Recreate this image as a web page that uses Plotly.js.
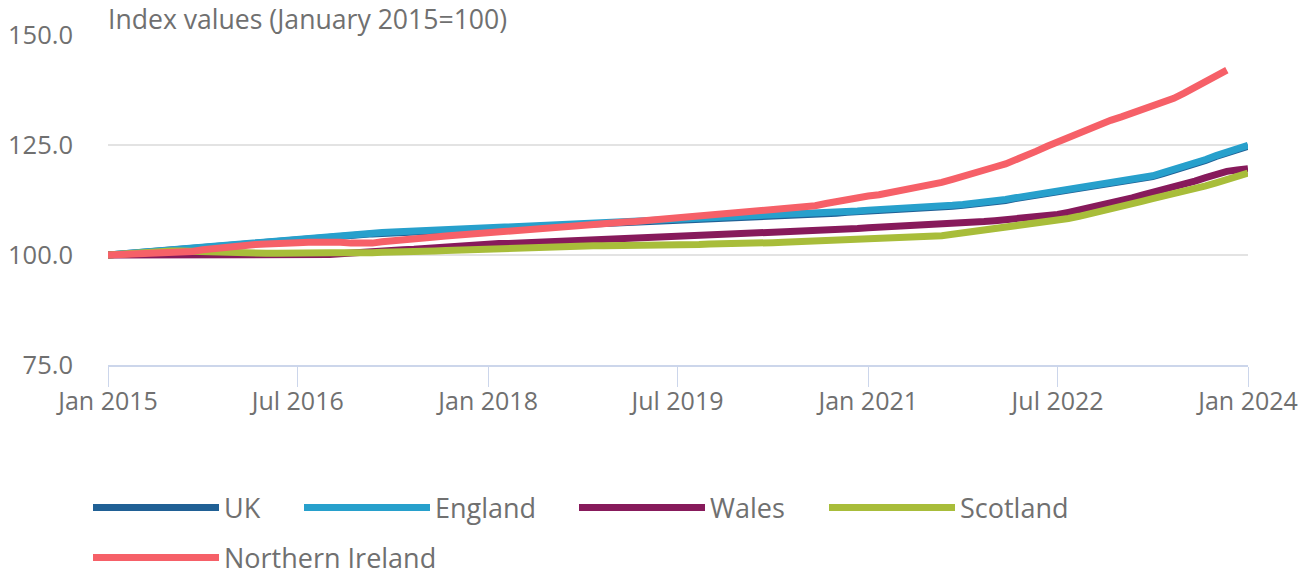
<!DOCTYPE html>
<html>
<head>
<meta charset="utf-8">
<script src="https://cdn.plot.ly/plotly-3.0.1.min.js"></script>
<style>
  html, body { margin: 0; padding: 0; background: #ffffff; }
  #chart { width: 1309px; height: 576px; }
</style>
</head>
<body>
<div id="chart"></div>
<script>
// Monthly observations, January 2015 to January 2024
const startYear = 2015;
const monthCount = 109;

const seriesNames = ["UK", "England", "Wales", "Scotland", "Northern Ireland"];
const seriesColors = ["#206095", "#27a0cc", "#871a5b", "#a8bd3a", "#f66068"];

const ukValues = [
  100.0, 100.2, 100.4, 100.6, 100.9, 101.1, 101.4, 101.6, 101.8, 102.0, 102.2, 102.4,
  102.6, 102.8, 103.0, 103.2, 103.4, 103.6, 103.8, 104.0, 104.1, 104.3, 104.4, 104.6,
  104.7, 104.8, 104.9, 105.0, 105.1, 105.2, 105.3, 105.4, 105.5, 105.6, 105.7, 105.8,
  105.9, 106.0, 106.1, 106.2, 106.3, 106.4, 106.5, 106.6, 106.7, 106.8, 106.9, 107.0,
  107.1, 107.2, 107.3, 107.4, 107.5, 107.6, 107.7, 107.8, 107.9, 108.0, 108.1, 108.2,
  108.3, 108.4, 108.5, 108.6, 108.8, 108.9, 109.1, 109.2, 109.4, 109.5, 109.7, 109.8,
  110.0, 110.1, 110.2, 110.3, 110.4, 110.5, 110.7, 110.9, 111.1, 111.3, 111.5, 111.7,
  112.0, 112.4, 112.8, 113.2, 113.5, 113.9, 114.3, 114.6, 114.9, 115.2, 115.6, 116.0,
  116.4, 116.8, 117.3, 117.8, 118.5, 119.2, 119.9, 120.7, 121.5, 122.4, 123.2, 124.0,
  124.7
];

const englandValues = [
  100.0, 100.2, 100.5, 100.7, 101.0, 101.2, 101.5, 101.7, 101.9, 102.1, 102.3, 102.5,
  102.7, 102.9, 103.1, 103.3, 103.5, 103.7, 103.9, 104.1, 104.3, 104.5, 104.6, 104.8,
  104.9, 105.0, 105.1, 105.2, 105.3, 105.4, 105.5, 105.6, 105.7, 105.8, 105.9, 106.0,
  106.1, 106.2, 106.3, 106.4, 106.5, 106.6, 106.7, 106.8, 106.9, 107.0, 107.1, 107.2,
  107.3, 107.4, 107.5, 107.6, 107.7, 107.8, 107.9, 108.0, 108.1, 108.2, 108.3, 108.4,
  108.5, 108.6, 108.7, 108.8, 109.0, 109.1, 109.3, 109.4, 109.6, 109.7, 109.9, 110.0,
  110.2, 110.3, 110.4, 110.5, 110.6, 110.7, 110.9, 111.1, 111.3, 111.5, 111.7, 111.9,
  112.2, 112.6, 113.0, 113.4, 113.7, 114.1, 114.5, 114.8, 115.1, 115.4, 115.8, 116.2,
  116.6, 117.0, 117.5, 118.0, 118.7, 119.4, 120.1, 120.9, 121.7, 122.6, 123.4, 124.2,
  124.9
];

const walesValues = [
  100.0, 100.0, 99.9, 99.9, 99.8, 99.8, 99.8, 99.9, 99.8, 99.8, 99.9, 99.9,
  99.9, 99.8, 99.8, 99.9, 99.9, 100.0, 99.9, 99.9, 100.0, 100.1, 100.3, 100.5,
  100.7, 100.9, 101.0, 101.1, 101.2, 101.3, 101.5, 101.6, 101.8, 102.0, 102.1, 102.2,
  102.4, 102.6, 102.6, 102.7, 102.8, 102.9, 103.0, 103.1, 103.2, 103.3, 103.4, 103.5,
  103.6, 103.7, 103.8, 103.8, 103.9, 104.0, 104.1, 104.3, 104.4, 104.5, 104.5, 104.6,
  104.7, 104.8, 104.8, 104.9, 105.0, 105.1, 105.3, 105.5, 105.6, 105.8, 105.9, 106.0,
  106.2, 106.3, 106.4, 106.5, 106.6, 106.7, 106.8, 107.0, 107.1, 107.3, 107.5, 107.6,
  107.8, 108.0, 108.2, 108.5, 108.7, 109.0, 109.2, 109.7, 110.2, 110.8, 111.4, 111.9,
  112.4, 113.0, 113.6, 114.2, 114.7, 115.3, 116.0, 116.8, 117.6, 118.4, 119.0, 119.3,
  119.6
];

const scotlandValues = [
  100.0, 100.2, 100.4, 100.6, 100.7, 100.8, 100.9, 100.9, 100.8, 100.7, 100.5, 100.4,
  100.3, 100.3, 100.3, 100.4, 100.4, 100.5, 100.5, 100.4, 100.4, 100.5, 100.5, 100.4,
  100.5, 100.5, 100.6, 100.6, 100.6, 100.7, 100.8, 100.9, 101.0, 101.1, 101.2, 101.3,
  101.3, 101.4, 101.5, 101.5, 101.6, 101.7, 101.7, 101.8, 101.9, 102.0, 102.1, 102.1,
  102.1, 102.2, 102.2, 102.2, 102.3, 102.3, 102.4, 102.4, 102.4, 102.5, 102.5, 102.6,
  102.6, 102.7, 102.8, 102.8, 102.9, 103.0, 103.0, 103.1, 103.2, 103.3, 103.4, 103.5,
  103.6, 103.7, 103.8, 103.8, 103.9, 104.0, 104.2, 104.4, 104.7, 105.0, 105.3, 105.6,
  105.9, 106.2, 106.5, 106.8, 107.1, 107.4, 107.8, 108.3, 108.8, 109.3, 109.8, 110.4,
  111.0, 111.6, 112.2, 112.8, 113.3, 113.9, 114.5, 115.1, 115.7, 116.4, 117.1, 117.8,
  118.6
];

// Northern Ireland series ends in November 2023
const northernIrelandValues = [
  100.0, 100.1, 100.1, 100.2, 100.3, 100.3, 100.4, 100.5, 100.8, 101.2, 101.5, 101.8,
  102.0, 102.2, 102.4, 102.5, 102.7, 102.8, 102.8, 102.9, 103.0, 103.0, 102.9, 102.7,
  102.6, 102.7, 103.0, 103.3, 103.5, 103.7, 103.9, 104.1, 104.3, 104.5, 104.6, 104.7,
  104.9, 105.2, 105.5, 105.8, 106.0, 106.2, 106.4, 106.6, 106.8, 106.9, 107.1, 107.2,
  107.3, 107.5, 107.6, 107.8, 107.9, 108.1, 108.3, 108.5, 108.7, 108.9, 109.1, 109.3,
  109.5, 109.8, 110.0, 110.2, 110.4, 110.6, 110.8, 111.2, 111.7, 112.2, 112.6, 113.0,
  113.4, 113.7, 114.1, 114.5, 114.9, 115.4, 115.9, 116.5, 117.2, 117.8, 118.5, 119.3,
  120.0, 120.7, 121.5, 122.5, 123.6, 124.7, 125.7, 126.7, 127.8, 128.9, 129.8, 130.6,
  131.4, 132.3, 133.1, 133.8, 134.6, 135.6, 136.8, 138.2, 139.5, 140.7, 142.0
];

const yTickValues = [75, 100, 125, 150];
const yTickLabels = ["75.0", "100.0", "125.0", "150.0"];
const xTickValues = ["2015-01-01", "2016-07-01", "2018-01-01", "2019-07-01", "2021-01-01", "2022-07-01", "2024-01-01"];
const xTickLabels = ["Jan 2015", "Jul 2016", "Jan 2018", "Jul 2019", "Jan 2021", "Jul 2022", "Jan 2024"];
const yTitleText = "Index values (January 2015=100)";

// Month dates for the category axis
const months = [];
for (let m = 0; m < monthCount; m++) {
  const y = startYear + Math.floor(m / 12);
  const mo = (m % 12) + 1;
  months.push(y + "-" + (mo < 10 ? "0" + mo : mo) + "-01");
}

const allValues = [ukValues, englandValues, walesValues, scotlandValues, northernIrelandValues];
const legendIds = ["legend", "legend2", "legend3", "legend4", "legend5"];

const textColor = "#707070";
const fontFamily = "'Open Sans', 'Noto Sans', sans-serif";

const traces = allValues.map(function (vals, i) {
  return {
    type: "scatter",
    mode: "lines",
    name: seriesNames[i],
    x: months.slice(0, vals.length),
    y: vals,
    line: { color: seriesColors[i], width: 7, shape: "linear" },
    legend: legendIds[i],
    hoverinfo: "x+y+name"
  };
});

const W = 1309, H = 576;

const legendCommon = {
  orientation: "h",
  xref: "container",
  yref: "container",
  xanchor: "left",
  yanchor: "middle",
  font: { family: fontFamily, size: 27, color: textColor },
  itemwidth: 126,
  bgcolor: "rgba(0,0,0,0)",
  borderwidth: 0
};

// legend anchor positions (px): [left, centre y]
const legendPos = [[88, 508], [299, 508], [574, 508], [824, 508], [88, 558]];

const layout = {
  width: W,
  height: H,
  paper_bgcolor: "#ffffff",
  plot_bgcolor: "#ffffff",
  margin: { l: 108, r: 61, t: 35, b: 211, pad: 0 },
  font: { family: fontFamily, color: textColor },
  showlegend: true,
  xaxis: {
    type: "date",
    range: ["2015-01-01", "2024-01-01"],
    tickmode: "array",
    tickvals: xTickValues,
    ticktext: xTickLabels,
    ticks: "outside",
    ticklen: 20,
    tickwidth: 1,
    tickcolor: "#ccd6eb",
    ticklabelstandoff: -7,
    showline: true,
    linecolor: "#ccd6eb",
    linewidth: 2,
    showgrid: false,
    zeroline: false,
    tickfont: { family: fontFamily, size: 25, color: textColor },
    fixedrange: true
  },
  yaxis: {
    range: [75, 150],
    tickmode: "array",
    tickvals: yTickValues,
    ticktext: yTickLabels,
    ticks: "",
    ticklabelstandoff: 34,
    showline: false,
    showgrid: true,
    gridcolor: "#e3e3e3",
    gridwidth: 2,
    zeroline: false,
    tickfont: { family: fontFamily, size: 25.5, color: textColor },
    fixedrange: true
  },
  annotations: [
    {
      text: yTitleText,
      xref: "paper",
      yref: "paper",
      x: 0,
      y: 1,
      xanchor: "left",
      yanchor: "middle",
      yshift: 16,
      xshift: -2,
      showarrow: false,
      font: { family: fontFamily, size: 26.6, color: textColor }
    }
  ]
};

legendIds.forEach(function (id, i) {
  layout[id] = Object.assign({}, legendCommon, {
    x: legendPos[i][0] / W,
    y: 1 - legendPos[i][1] / H
  });
});

Plotly.newPlot("chart", traces, layout, { displayModeBar: false, responsive: false });
</script>
</body>
</html>
